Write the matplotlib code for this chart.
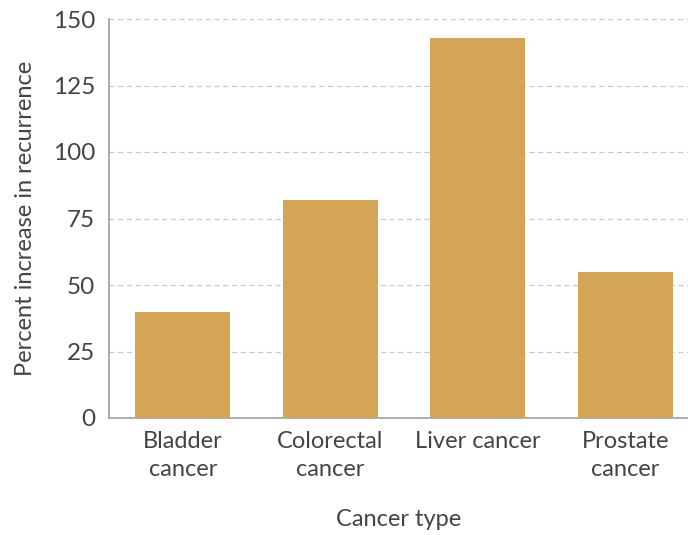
import matplotlib
matplotlib.use("Agg")
import matplotlib.pyplot as plt

categories = ["Bladder\ncancer", "Colorectal\ncancer", "Liver cancer", "Prostate\ncancer"]
values = [40, 82, 143, 55]
yticks = [0, 25, 50, 75, 100, 125, 150]

plt.rcParams['font.family'] = ['Lato', 'DejaVu Sans']
text_color = '#444444'

fig = plt.figure(figsize=(6.88, 5.35), dpi=100)
ax = fig.add_axes([109/688, (535-418)/535, 1 - 109/688, (418-19)/535])

x = list(range(len(categories)))
ax.bar(x, values, width=0.645, color='#D4A554', zorder=3)

ax.set_xlim(-0.5, 3.425)
ax.set_ylim(0, 150)
ax.set_yticks(yticks)
ax.set_xticks(x)
ax.set_xticklabels(categories, fontsize=17, color=text_color, linespacing=1.45)
ax.tick_params(axis='y', labelsize=17.5, labelcolor=text_color, length=0, pad=10)
ax.tick_params(axis='x', length=0, pad=9)

for y in yticks[1:]:
    ax.axhline(y, color='#c8c8c8', linestyle=(0, (4, 3)), linewidth=0.9, zorder=1)

for s in ['top', 'right']:
    ax.spines[s].set_visible(False)
for s in ['left', 'bottom']:
    ax.spines[s].set_color('#a0a0a0')
    ax.spines[s].set_linewidth(1.2)

ax.set_ylabel("Percent increase in recurrence", fontsize=17, color=text_color, labelpad=12)
ax.set_xlabel("Cancer type", fontsize=17, color=text_color, labelpad=21)

fig.savefig("out.png", dpi=100)
